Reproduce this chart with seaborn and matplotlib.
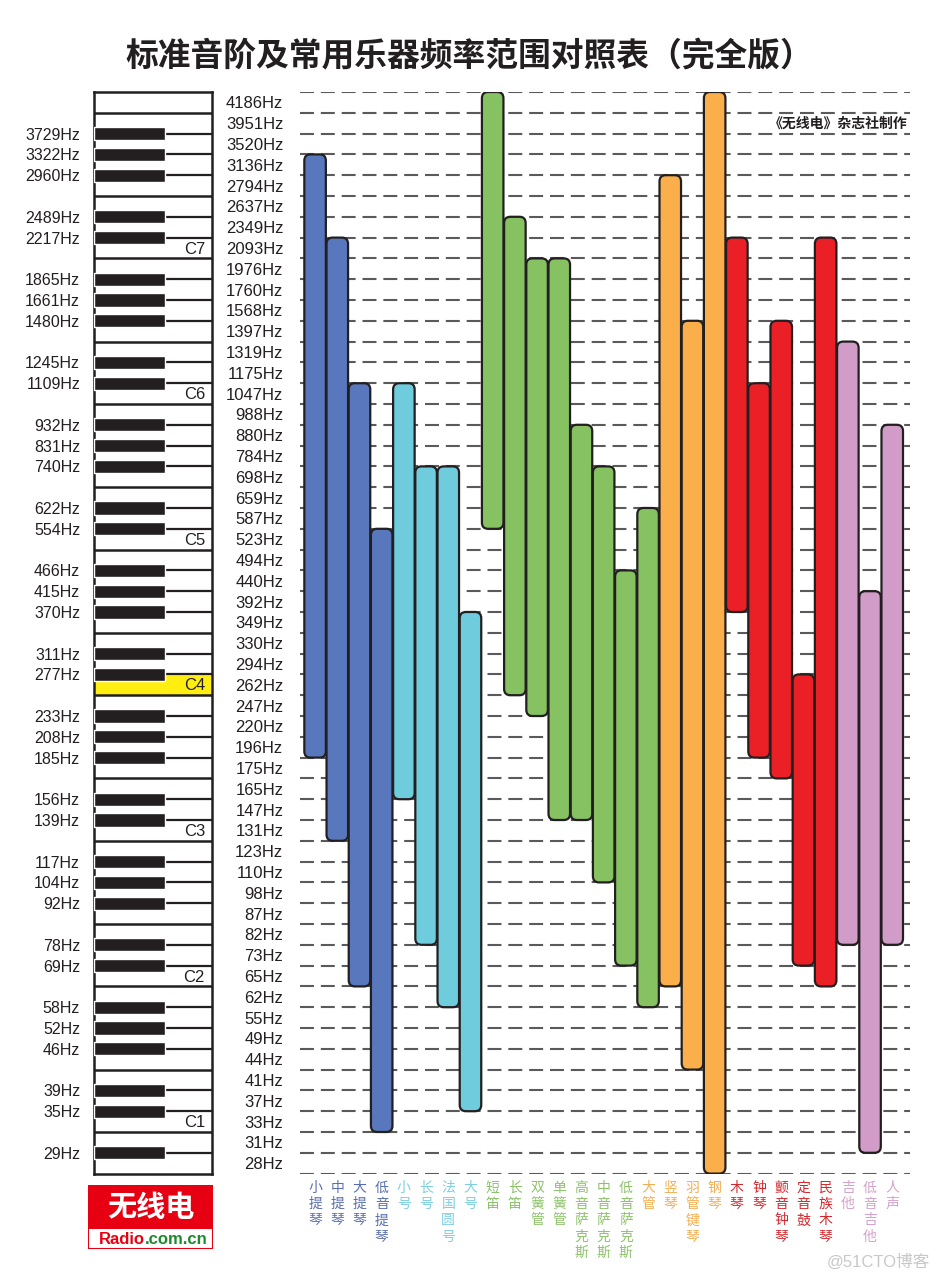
import numpy as np
import pandas as pd
import matplotlib
matplotlib.use("Agg")
import matplotlib.pyplot as plt
import seaborn as sns
from matplotlib.patches import FancyBboxPatch, Rectangle

# ---------------- data ----------------
white_freqs = [4186, 3951, 3520, 3136, 2794, 2637, 2349, 2093, 1976, 1760, 1568, 1397, 1319, 1175,
               1047, 988, 880, 784, 698, 659, 587, 523, 494, 440, 392, 349, 330, 294, 262, 247,
               220, 196, 175, 165, 147, 131, 123, 110, 98, 87, 82, 73, 65, 62, 55, 49, 44, 41,
               37, 33, 31, 28]
black_freqs = [3729, 3322, 2960, 2489, 2217, 1865, 1661, 1480, 1245, 1109, 932, 831, 740, 622,
               554, 466, 415, 370, 311, 277, 233, 208, 185, 156, 139, 117, 104, 92, 78, 69,
               58, 52, 46, 39, 35, 29]

instruments = ["小提琴", "中提琴", "大提琴", "低音提琴",
               "小号", "长号", "法国圆号", "大号",
               "短笛", "长笛", "双簧管", "单簧管", "高音萨克斯", "中音萨克斯", "低音萨克斯", "大管",
               "竖琴", "羽管键琴", "钢琴",
               "木琴", "钟琴", "颤音钟琴", "定音鼓", "民族木琴",
               "吉他", "低音吉他", "人声"]
low_freq = [196, 131, 65, 33,
            165, 82, 62, 37,
            587, 262, 247, 147, 147, 110, 73, 62,
            65, 44, 28,
            392, 196, 175, 73, 65,
            82, 31, 82]
high_freq = [3136, 2093, 1047, 523,
             1047, 698, 698, 349,
             4186, 2349, 1976, 1976, 880, 698, 440, 587,
             2794, 1397, 4186,
             2093, 1047, 1397, 262, 2093,
             1319, 392, 880]
bar_group = ["strings"] * 4 + ["brass"] * 4 + ["wood"] * 8 + ["keys"] * 3 + ["perc"] * 5 + ["pluck"] * 3
label_group = ["strings"] * 4 + ["brass"] * 4 + ["wood"] * 7 + ["keys"] * 4 + ["perc"] * 5 + ["pluck"] * 3

bar_colors = {"strings": "#5877BD", "brass": "#6ECCDD", "wood": "#86C262",
              "keys": "#FAAF4B", "perc": "#EB2027", "pluck": "#D29CC8"}
label_colors = {"strings": "#5a6fae", "brass": "#7fcfe0", "wood": "#8dc26b",
                "keys": "#f2ae52", "perc": "#d6262b", "pluck": "#d3a2cd"}

title = "标准音阶及常用乐器频率范围对照表（完全版）"
credit = "《无线电》杂志社制作"

# ---------------- style ----------------
sns.set_theme(style="white")
plt.rcParams["font.family"] = ["Liberation Sans", "Noto Sans CJK SC", "DejaVu Sans"]
CJK = ["Noto Sans CJK SC", "DejaVu Sans"]
INK = "#231f20"

W, H = 938, 1280
fig = plt.figure(figsize=(W / 100, H / 100), dpi=100)
fig.patch.set_facecolor("white")

top_px, bot_px = 92, 1173.6
n_white = len(white_freqs)
idx = {f: i for i, f in enumerate(white_freqs)}

# ---------------- main chart ----------------
ax = fig.add_axes([300 / W, 1 - bot_px / H, 610 / W, (bot_px - top_px) / H])
df = pd.DataFrame({"instrument": instruments,
                   "span": [idx[l] - idx[h] + 1 for l, h in zip(low_freq, high_freq)],
                   "group": bar_group})
palette = {n: bar_colors[g] for n, g in zip(instruments, bar_group)}
sns.barplot(data=df, x="instrument", y="span", hue="instrument", order=instruments,
            hue_order=instruments, palette=palette, legend=False, width=0.97, ax=ax,
            saturation=1)

xlo, xhi = -0.68, 26.8
ax.set_xlim(xlo, xhi)
ax.set_ylim(n_white - 0.5, -0.5)

# rounded bars placed at their frequency range
for p in list(ax.patches):
    x0, w = p.get_x(), p.get_width()
    i = int(round(x0 + w / 2))
    top = idx[high_freq[i]] - 0.5
    height = idx[low_freq[i]] - idx[high_freq[i]] + 1
    fb = FancyBboxPatch((x0, top), w, height,
                        boxstyle="round,pad=0,rounding_size=0.28",
                        mutation_aspect=1.067,
                        facecolor=p.get_facecolor(), edgecolor=INK, linewidth=1.6, zorder=3)
    p.remove()
    ax.add_patch(fb)

# dashed guide lines at white-key boundaries
ax.hlines(np.arange(n_white + 1) - 0.5, xlo, xhi, colors="#5a5a5a",
          linewidth=1.5, linestyles=(0, (6.7, 3.3)), zorder=1)

ax.set_xlabel("")
ax.set_ylabel("")
ax.set_yticks(range(n_white))
ax.set_yticklabels([f"{f}Hz" for f in white_freqs], fontsize=12, color=INK)
ax.set_xticks(range(len(instruments)))
ax.set_xticklabels(["\n".join(n) for n in instruments], fontsize=10, family=CJK,
                   linespacing=1.22, va="top")
for t, g in zip(ax.get_xticklabels(), label_group):
    t.set_color(label_colors[g])
ax.tick_params(axis="y", length=0, pad=12)
ax.tick_params(axis="x", length=0, pad=5)
for s in ax.spines.values():
    s.set_visible(False)
ax.set_facecolor("none")

# ---------------- piano keyboard ----------------
axp = fig.add_axes([94 / W, 1 - bot_px / H, 118 / W, (bot_px - top_px) / H])
axp.set_xlim(0, 1)
axp.set_ylim(n_white - 0.5, -0.5)
letters = "CBAGFED"
black_pos = [k + 0.5 for k in range(n_white - 1) if letters[k % 7] in "BAGED"]
# C4 highlight
c4 = idx[262]
axp.barh(c4, 1, height=1, left=0, color="#FFEE10", zorder=1)
for k in range(n_white - 1):
    y = k + 0.5
    if letters[k % 7] in "BAGED":
        axp.plot([0.6, 1], [y, y], color=INK, lw=1.6, zorder=2, solid_capstyle="butt")
    else:
        axp.plot([0, 1], [y, y], color=INK, lw=1.8, zorder=2, solid_capstyle="butt")
axp.barh(black_pos, 0.6, height=0.64, left=0, color=INK, zorder=3)
for i in range(n_white):
    if letters[i % 7] == "C" and i > 0:
        axp.text(0.94, i + 0.05, f"C{8 - i // 7}", ha="right", va="center",
                 fontsize=12, color=INK, zorder=4)
axp.set_yticks(black_pos)
axp.set_yticklabels([f"{f}Hz" for f in black_freqs], fontsize=11.5, color=INK)
axp.set_xticks([])
axp.tick_params(axis="y", length=0, pad=10)
for s in axp.spines.values():
    s.set_visible(True)
    s.set_color(INK)
    s.set_linewidth(1.8)

# ---------------- texts ----------------
fig.text(469 / W, 1 - 57 / H, title, ha="center", va="center", fontsize=23.6,
         fontweight="bold", family=CJK, color=INK)
fig.text(908 / W, 1 - 124 / H, credit, ha="right", va="center", fontsize=10,
         fontweight="bold", family=CJK, color=INK)
fig.text(930 / W, 1 - 1262 / H, "@51CTO博客", ha="right", va="center", fontsize=12,
         family=["Liberation Sans", "Noto Sans CJK SC"], color="#c8c8c8")

# ---------------- logo ----------------
axl = fig.add_axes([88 / W, 1 - 1249 / H, 125 / W, 64 / H])
axl.set_xlim(0, 1)
axl.set_ylim(0, 1)
axl.axis("off")
axl.add_patch(Rectangle((0, 0.32), 1, 0.68, facecolor="#E60012", edgecolor="none"))
axl.add_patch(Rectangle((0, 0), 1, 1, facecolor="none", edgecolor="#E60012", lw=1.5))
axl.text(0.5, 0.66, "无线电", ha="center", va="center", fontsize=21, fontweight="bold",
         family=CJK, color="white")
axl.text(0.456, 0.15, "Radio", ha="right", va="center", fontsize=12, fontweight="bold",
         color="#E60012")
axl.text(0.456, 0.15, ".com.cn", ha="left", va="center", fontsize=12, fontweight="bold",
         color="#1e8a2e")

fig.savefig("out.png", dpi=100, facecolor="white")
